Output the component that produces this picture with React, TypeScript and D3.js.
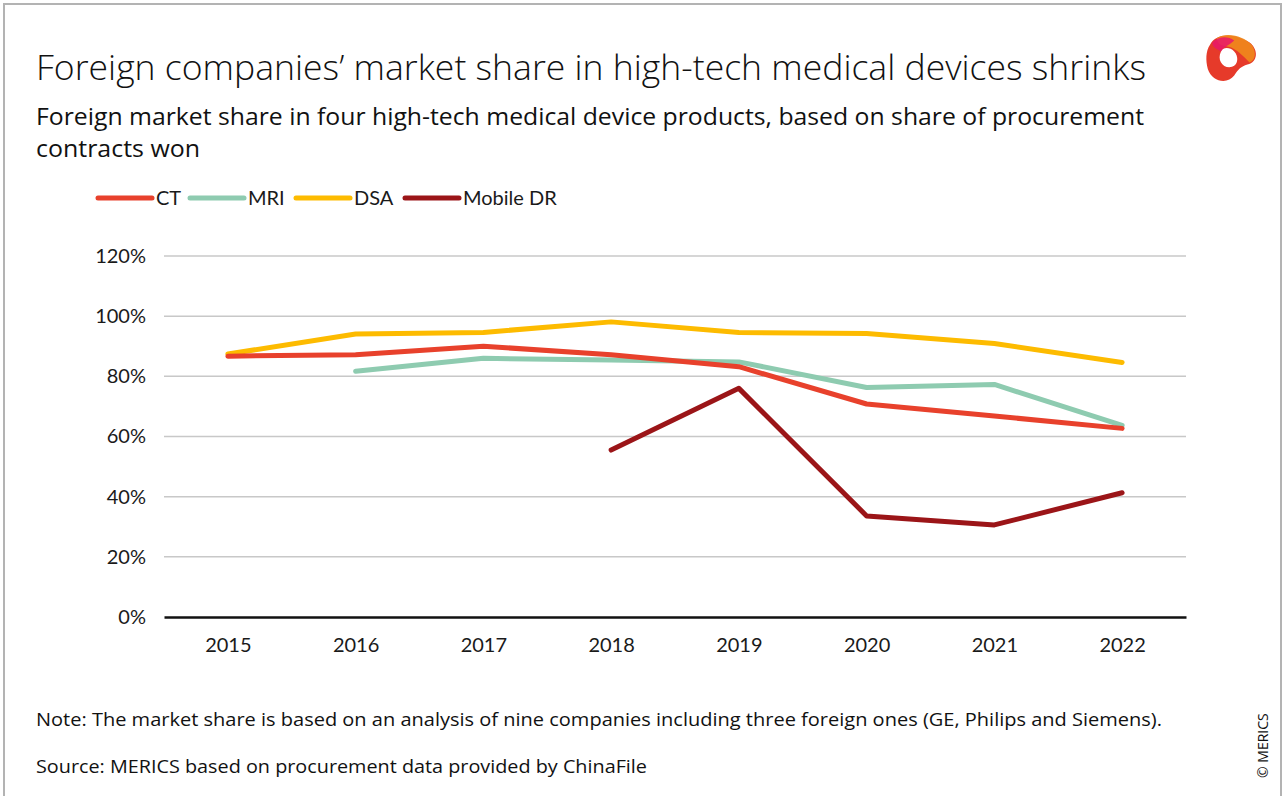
import { axisBottom, axisLeft, line, scaleLinear, scalePoint, select } from 'd3';
import React, { useEffect, useRef } from 'react';

const years = ['2015', '2016', '2017', '2018', '2019', '2020', '2021', '2022'];
const ctValues = [86.7, 87.2, 90.0, 87.2, 83.2, 70.8, 66.8, 62.7];
const mriValues = [null, 81.7, 86.0, 85.4, 84.8, 76.3, 77.3, 63.7];
const dsaValues = [87.4, 94.1, 94.6, 98.1, 94.6, 94.2, 90.9, 84.6];
const mobileDrValues = [null, null, null, 55.5, 76.0, 33.6, 30.6, 41.3];
const yTicks = [0, 20, 40, 60, 80, 100, 120];

const seriesNames = ['CT', 'MRI', 'DSA', 'Mobile DR'];
const seriesColors = ['#e8412c', '#8ecbb0', '#fdbb00', '#9b1518'];
const seriesValues = [ctValues, mriValues, dsaValues, mobileDrValues];

const FONT = 'Lato, "Open Sans", sans-serif';
const TEXT_FONT = '"Open Sans", Lato, sans-serif';

const App: React.FC = () => {
  const svgRef = useRef<SVGSVGElement>(null);

  useEffect(() => {
    const svg = select(svgRef.current);
    const plot = { left: 164, right: 1186, top: 256, bottom: 617 };

    // Scales
    const xScale = scalePoint<string>()
      .domain(years)
      .range([plot.left, plot.right])
      .padding(0.5);
    const yScale = scaleLinear().domain([0, 120]).range([plot.bottom, plot.top]);

    // Gridlines
    svg
      .select('.grid')
      .selectAll('line')
      .data(yTicks.filter((t) => t > 0))
      .join('line')
      .attr('x1', plot.left)
      .attr('x2', plot.right)
      .attr('y1', (d) => yScale(d))
      .attr('y2', (d) => yScale(d))
      .attr('stroke', '#c8c8c8')
      .attr('stroke-width', 1.5);

    // Axes
    const yAxis = axisLeft(yScale)
      .tickValues(yTicks)
      .tickSize(0)
      .tickPadding(18)
      .tickFormat((d) => `${d}%`);
    svg
      .select<SVGGElement>('.y-axis')
      .attr('transform', `translate(${plot.left},0)`)
      .call(yAxis)
      .call((g) => g.select('.domain').remove())
      .selectAll('text')
      .attr('font-family', FONT)
      .attr('font-size', 20)
      .attr('fill', '#1a1a1a');

    const xAxis = axisBottom(xScale).tickSize(0).tickPadding(21);
    svg
      .select<SVGGElement>('.x-axis')
      .attr('transform', `translate(0,${plot.bottom})`)
      .call(xAxis)
      .call((g) =>
        g.select('.domain').attr('stroke', '#111').attr('stroke-width', 2.5),
      )
      .selectAll('text')
      .attr('font-family', FONT)
      .attr('font-size', 20)
      .attr('fill', '#1a1a1a');

    // Lines
    const lineGenerator = line<number | null>()
      .defined((d) => d !== null)
      .x((_, i) => xScale(years[i]) as number)
      .y((d) => yScale(d as number));

    const order = [1, 2, 0, 3];
    svg
      .select('.series')
      .selectAll('path')
      .data(order)
      .join('path')
      .attr('fill', 'none')
      .attr('stroke', (i) => seriesColors[i])
      .attr('stroke-width', 5)
      .attr('stroke-linejoin', 'round')
      .attr('stroke-linecap', 'round')
      .attr('d', (i) => lineGenerator(seriesValues[i]));

    // Legend
    const legendX = [98, 190, 296, 405];
    const legend = svg
      .select('.legend')
      .selectAll('g')
      .data(seriesNames)
      .join('g')
      .attr('transform', (_, i) => `translate(${legendX[i]},198)`);
    legend
      .selectAll('line')
      .data((d) => [d])
      .join('line')
      .attr('x1', 0)
      .attr('x2', 54)
      .attr('stroke', (d) => seriesColors[seriesNames.indexOf(d)])
      .attr('stroke-width', 5)
      .attr('stroke-linecap', 'round');
    legend
      .selectAll('text')
      .data((d) => [d])
      .join('text')
      .attr('x', 58)
      .attr('dy', '0.35em')
      .attr('font-family', FONT)
      .attr('font-size', 20)
      .attr('fill', '#1a1a1a')
      .text((d) => d);
  }, []);

  return (
    <div style={{ position: 'absolute', left: 0, top: 0 }}>
      <svg ref={svgRef} width={1284} height={796} style={{ display: 'block' }}>
        <rect x={4} y={4} width={1277} height={806} fill="white" stroke="#b3b3b3" strokeWidth={2} />
        <g className="grid" />
        <g className="y-axis" />
        <g className="x-axis" />
        <g className="series" />
        <g className="legend" />
        <text x={36} y={80} fontFamily={TEXT_FONT} fontSize={35} fontWeight={300} fill="#111" textLength={1110} lengthAdjust="spacingAndGlyphs">
          Foreign companies’ market share in high-tech medical devices shrinks
        </text>
        <text x={36} y={125} fontFamily={TEXT_FONT} fontSize={24} fill="#111" textLength={1108} lengthAdjust="spacingAndGlyphs">
          Foreign market share in four high-tech medical device products, based on share of procurement
        </text>
        <text x={36} y={157} fontFamily={TEXT_FONT} fontSize={24} fill="#111" textLength={164} lengthAdjust="spacingAndGlyphs">
          contracts won
        </text>
        <text x={36} y={726} fontFamily={TEXT_FONT} fontSize={19} fill="#111" textLength={1126} lengthAdjust="spacingAndGlyphs">
          Note: The market share is based on an analysis of nine companies including three foreign ones (GE, Philips and Siemens).
        </text>
        <text x={36} y={773} fontFamily={TEXT_FONT} fontSize={19} fill="#111" textLength={611} lengthAdjust="spacingAndGlyphs">
          Source: MERICS based on procurement data provided by ChinaFile
        </text>
        <text
          transform="translate(1268,778) rotate(-90)"
          fontFamily={TEXT_FONT}
          fontSize={14}
          fill="#111"
        >
          © MERICS
        </text>
        <g transform="translate(1232,58) scale(1.1)">
          <path
            d="M-20,-12 C-14,-24 4,-22 16,-14 C24,-8 24,4 14,6 C8,8 6,10 2,16 C-4,24 -18,22 -22,10 C-24,2 -24,-6 -20,-12 Z M-10,-6 C-14,2 -8,10 0,8 C6,6 6,-2 2,-6 C-2,-10 -8,-10 -10,-6 Z"
            fill="#e63a2a"
            fillRule="evenodd"
          />
          <path
            d="M-14,-18 C-4,-24 10,-20 18,-12 C22,-6 22,2 16,4 C10,-2 4,-8 -2,-10 C-8,-12 -12,-10 -14,-18 Z"
            fill="#f08a1c"
            opacity={0.9}
          />
          <path
            d="M-18,-14 C-12,-20 -4,-20 2,-16 C-2,-12 -8,-10 -10,-6 C-14,-8 -18,-10 -18,-14 Z"
            fill="#e8196a"
            opacity={0.85}
          />
        </g>
      </svg>
    </div>
  );
};

export default App;
